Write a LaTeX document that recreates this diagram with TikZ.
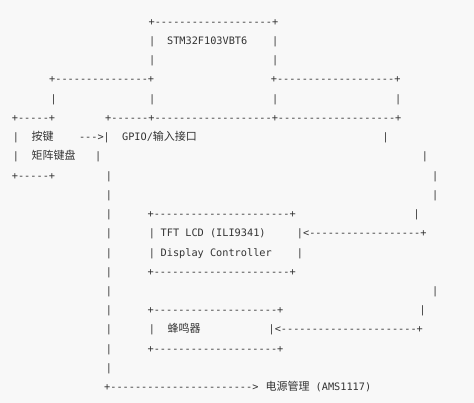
\documentclass[tikz,border=0pt]{standalone}
\usepackage{fontspec}
\setmonofont{DejaVu Sans Mono}
\newfontfamily\cjk{Noto Sans CJK SC}
\ExplSyntaxOn
\NewExpandableDocumentCommand\dashrun{m}{\prg_replicate:nn{#1}{-}}
\ExplSyntaxOff
\definecolor{bgc}{HTML}{F8F8F8}
\definecolor{ink}{HTML}{333333}
\newcommand\rowb[1]{25.3+19.23*#1}
\newcommand\zh[1]{{\cjk\fontsize{11}{13}\selectfont #1}}
\tikzset{t/.style={anchor=base west, inner sep=0pt, outer sep=0pt, text=ink,
  font=\ttfamily\fontsize{10.25}{12}\selectfont}}
\begin{document}
\begin{tikzpicture}[x=1pt,y=-1pt]
\fill[bgc] (0,0) rectangle (474,403);
\useasboundingbox (0,0) rectangle (474,403);
% row 0-2: MCU box
\node[t] (r0) at (148.6,{\rowb{0}}) {+\dashrun{19}+};
\node[t] (r1a) at (149.2,{\rowb{1}}) {|};
\node[t] (r1b) at (167.1,{\rowb{1}}) {STM32F103VBT6};
\node[t] (r1c) at (272.2,{\rowb{1}}) {|};
\node[t] (r2a) at (149.2,{\rowb{2}}) {|};
\node[t] (r2b) at (272.2,{\rowb{2}}) {|};
% row 3-5
\node[t] (r3a) at (49.2,{\rowb{3}}) {+\dashrun{15}+};
\node[t] (r3b) at (270.9,{\rowb{3}}) {+\dashrun{19}+};
\node[t] (r4a) at (50.6,{\rowb{4}}) {|};
\node[t] (r4b) at (149.2,{\rowb{4}}) {|};
\node[t] (r4c) at (272.2,{\rowb{4}}) {|};
\node[t] (r4d) at (395.2,{\rowb{4}}) {|};
\node[t] (r5a) at (11.9,{\rowb{5}}) {+\dashrun{5}+};
\node[t] (r5b) at (105.2,{\rowb{5}}) {+\dashrun{6}+\dashrun{19}+\dashrun{19}+};
% row 6-8: keys and GPIO
\node[t] (r6a) at (12.9,{\rowb{6}}) {|};
\node[t] (r6b) at (31.5,{\rowb{6}}) {\zh{按键}};
\node[t] (r6c) at (79,{\rowb{6}}) {\dashrun{3}>};
\node[t] (r6d) at (103.6,{\rowb{6}}) {|};
\node[t] (r6e) at (122.1,{\rowb{6}}) {GPIO/\zh{输入接口}};
\node[t] (r6f) at (382.6,{\rowb{6}}) {|};
\node[t] (r7a) at (12.9,{\rowb{7}}) {|};
\node[t] (r7b) at (31.5,{\rowb{7}}) {\zh{矩阵键盘}};
\node[t] (r7c) at (95.2,{\rowb{7}}) {|};
\node[t] (r7d) at (421.9,{\rowb{7}}) {|};
\node[t] (r8a) at (11.9,{\rowb{8}}) {+\dashrun{5}+};
% left long bar
\foreach \i in {8,...,18} \node[t] (v\i) at (105.9,{\rowb{\i}}) {|};
% right side bars
\node[t] (r8b) at (432.2,{\rowb{8}}) {|};
\node[t] (r9b) at (432.2,{\rowb{9}}) {|};
\node[t] (r10b) at (413.6,{\rowb{10}}) {|};
\node[t] (r14b) at (432.2,{\rowb{14}}) {|};
\node[t] (r15b) at (419.6,{\rowb{15}}) {|};
% TFT box
\node[t] (r10a) at (147.6,{\rowb{10}}) {+\dashrun{22}+};
\node[t] (r11a) at (148.9,{\rowb{11}}) {|};
\node[t] (r11b) at (160.7,{\rowb{11}}) {TFT LCD (ILI9341)};
\node[t] (r11c) at (296.9,{\rowb{11}}) {|};
\node[t] (r11d) at (303.1,{\rowb{11}}) {<\dashrun{18}+};
\node[t] (r12a) at (148.9,{\rowb{12}}) {|};
\node[t] (r12b) at (160.7,{\rowb{12}}) {Display Controller};
\node[t] (r12c) at (296.9,{\rowb{12}}) {|};
\node[t] (r13a) at (147.6,{\rowb{13}}) {+\dashrun{22}+};
% buzzer box
\node[t] (r15a) at (147.6,{\rowb{15}}) {+\dashrun{20}+};
\node[t] (r16a) at (148.9,{\rowb{16}}) {|};
\node[t] (r16b) at (167.7,{\rowb{16}}) {\zh{蜂鸣器}};
\node[t] (r16c) at (268.6,{\rowb{16}}) {|};
\node[t] (r16d) at (274.8,{\rowb{16}}) {<\dashrun{22}+};
\node[t] (r17a) at (147.6,{\rowb{17}}) {+\dashrun{20}+};
% power
\node[t] (r19a) at (104.2,{\rowb{19}}) {+\dashrun{23}>};
\node[t] (r19b) at (265.5,{\rowb{19}}) {\zh{电源管理} (AMS1117)};
\end{tikzpicture}
\end{document}
